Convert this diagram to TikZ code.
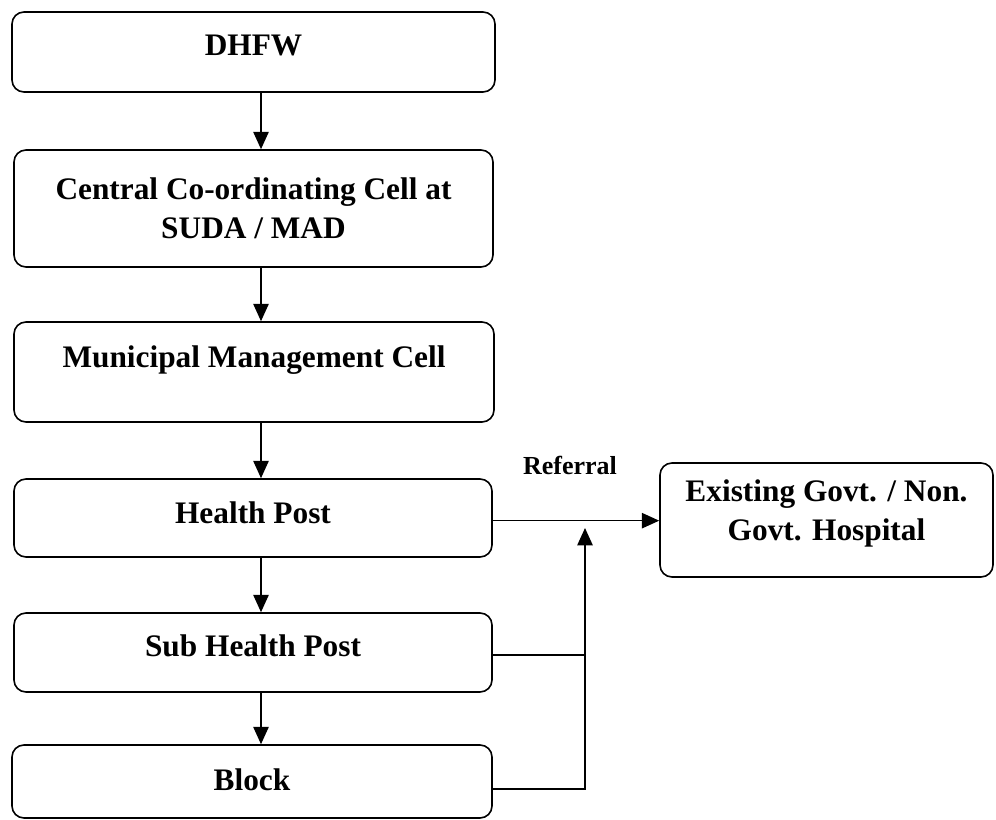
\documentclass[tikz,border=0pt]{standalone}
\usepackage{fontspec}
\setmainfont{Liberation Serif}
\usetikzlibrary{arrows.meta}
\begin{document}
\begin{tikzpicture}[x=0.75pt,y=-0.75pt,
  box/.style={draw, line width=1.2pt, rounded corners=9pt, inner sep=0pt},
  txt/.style={font=\fontsize{23.5}{29}\selectfont\bfseries, align=center},
  conn/.style={line width=1.2pt},
  arr/.style={conn, -{Triangle[length=13pt,width=11.5pt]}}]
\useasboundingbox (0,0) rectangle (996,820);
\node[box, minimum width=483*0.75pt, minimum height=80*0.75pt,
  label={[txt,yshift=5pt]center:DHFW}] (dhfw) at (253.5,52) {};
\node[box, minimum width=479*0.75pt, minimum height=117*0.75pt,
  label={[txt]center:Central Co-ordinating Cell at\\SUDA / MAD}] (ccc) at (253.5,208.5) {};
\node[box, minimum width=480*0.75pt, minimum height=100*0.75pt,
  label={[txt,yshift=9pt]center:Municipal Management Cell}] (mmc) at (254,372) {};
\node[box, minimum width=478*0.75pt, minimum height=78*0.75pt,
  label={[txt,yshift=4pt]center:Health Post}] (hp) at (253,518) {};
\node[box, minimum width=478*0.75pt, minimum height=79*0.75pt,
  label={[txt,yshift=5pt]center:Sub Health Post}] (shp) at (253,652.5) {};
\node[box, minimum width=480*0.75pt, minimum height=73*0.75pt,
  label={[txt,yshift=1pt]center:Block}] (blk) at (252,781.5) {};
\node[box, minimum width=333*0.75pt, minimum height=114*0.75pt,
  label={[txt,yshift=5pt]center:Existing Govt. / Non.\\Govt. Hospital}] (ex) at (826.5,520) {};
\node[font=\fontsize{19.5}{24}\selectfont\bfseries] (ref) at (570,465) {Referral};
\coordinate (ax) at (261,0);
\coordinate (j) at (585,528);
\draw[arr] (dhfw.south -| ax) -- (ccc.north -| ax);
\draw[arr] (ccc.south -| ax) -- (mmc.north -| ax);
\draw[arr] (mmc.south -| ax) -- (hp.north -| ax);
\draw[arr] (hp.south -| ax) -- (shp.north -| ax);
\draw[arr] (shp.south -| ax) -- (blk.north -| ax);
\draw[arr] ([yshift=-2pt]hp.east) -- ([yshift=-2pt]hp.east -| ex.west);
\draw[conn] ([yshift=-2pt]shp.east) -- ([yshift=-2pt]shp.east -| j);
\draw[arr] ([yshift=-5.5pt]blk.east) -| (j);
\end{tikzpicture}
\end{document}
